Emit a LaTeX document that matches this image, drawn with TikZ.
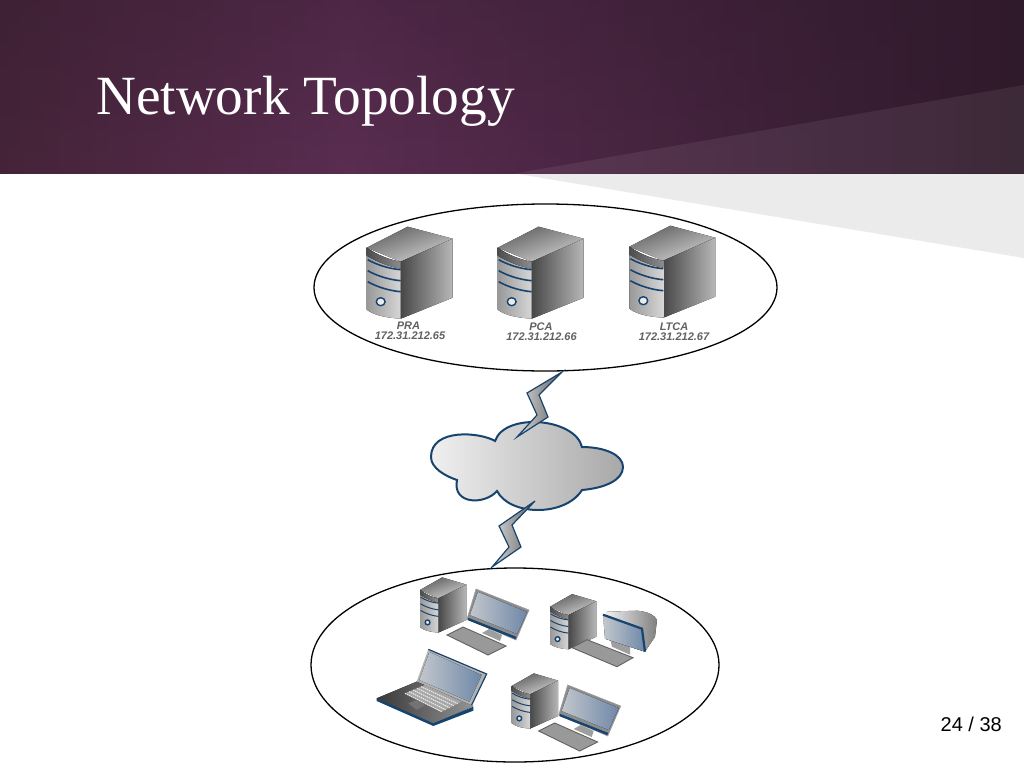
\documentclass[tikz,border=0pt]{standalone}
\usepackage{fontspec}
\usepackage{tikz}
\usetikzlibrary{shapes.geometric,fadings}
\setmainfont{Liberation Serif}
\newfontfamily\labelfont{Liberation Sans}
\definecolor{plumdark}{HTML}{2F1A2B}
\definecolor{plumleft}{HTML}{452439}
\definecolor{plummid}{HTML}{5A2D51}
\definecolor{boltnavy}{HTML}{17436F}
\definecolor{wedgegray}{HTML}{EBEBEB}
\definecolor{glasslight}{HTML}{C2C7CC}
\definecolor{glassblue}{HTML}{6F88A8}
\pgfdeclarehorizontalshading{headerplum}{100bp}{color(0bp)=(plumleft); color(25bp)=(plumleft); color(42bp)=(plummid); color(75bp)=(plumdark); color(100bp)=(plumdark)}
\tikzset{
  groupring/.style={ellipse,draw=black,line width=1.3pt,fill=white,inner sep=0pt},
  srvtext/.style={font=\labelfont\bfseries\itshape\fontsize{11}{12}\selectfont,text=black!62,inner sep=0pt},
  cloudbody/.style={draw=boltnavy,line width=2pt,left color=black!6,right color=black!34},
  boltbody/.style={draw=boltnavy,line width=1.2pt,line join=miter,left color=black!15,right color=black!62},
  screenglass/.style={left color=glasslight,right color=glassblue},
  keyboardbody/.style={draw=black!62,line width=.9pt,fill=black!40},
  stripeline/.style={line width=1.6pt},
  pics/towerbox/.style={code={
    \fill[left color=black!62,right color=black!18,shading angle=20] (0,0) -- (41,-21) -- (86,-9) -- (34,14) -- cycle;
    \fill[left color=black!72,right color=black!28] (34,14) -- (86,-9) -- (86,50) -- (34,71) -- cycle;
    \fill[left color=black!40,right color=black!16] (0,0) .. controls (10,7) and (22,12) .. (34,14) -- (34,71) .. controls (20,70) and (8,68) .. (0,62) -- cycle;
    \fill[left color=black!70,right color=black!45] (0,0) .. controls (10,7) and (22,12) .. (34,14) -- (34,21) .. controls (22,19) and (10,14) .. (0,8) -- cycle;
    \foreach \stripey in {12,23,34}
      \draw[boltnavy,stripeline] (1,\stripey) .. controls (10,\stripey+5) and (22,\stripey+9) .. (34,\stripey+10);
    \draw[boltnavy,line width=1.4pt,fill=black!8] (14,54) ellipse (4.4 and 4);
  }},
  pics/flatscreen/.style={code={
    \fill[black!38] (13,40) -- (26,46) -- (24,52) -- (6,44) -- cycle;
    \fill[black!45,draw=black!38,line width=.6pt] (0,0) -- (53,21) -- (40,51) -- (-9,30) -- cycle;
    \fill[screenglass] (2,3) -- (51,23) -- (41,45) -- (-6,26) -- cycle;
    \draw[boltnavy,line width=2.4pt] (-8,30) -- (40,49);
    \draw[keyboardbody] (-29,46) -- (-13,38) -- (30,57) -- (12,66) -- cycle;
  }},
  smalltower/.style={xscale=.54,yscale=.6,stripeline/.style={line width=1pt}},
  pics/desktopset/.style={code={
    \pic[smalltower] at (0,0) {towerbox};
    \pic at (56,-1) {flatscreen};
  }},
}
\begin{document}
\begin{tikzpicture}[x=1pt,y=-1pt]
  \useasboundingbox (0,0) rectangle (1024,768);

  \fill[white] (0,0) rectangle (1024,768);
  \fill[wedgegray] (515,173.5) -- (1024,173.5) -- (1024,258) -- cycle;
  \path[shading=headerplum] (0,0) rectangle (1024,173.5);
  \fill[plumdark,path fading=south,fill opacity=.3] (0,0) rectangle (1024,173.5);
  \fill[white,opacity=.07] (515,173.5) -- (1024,85) -- (1024,173.5) -- cycle;

  \node[anchor=base west,text=white,inner sep=0pt,font=\fontsize{55.3}{60}\selectfont] (title) at (96,114) {Network Topology};
  \node[anchor=base east,inner sep=0pt,font=\labelfont\fontsize{20}{24}\selectfont] (pageno) at (1002,731) {24 / 38};

  \node[groupring,minimum width=463pt,minimum height=167pt] (srvgroup) at (545.5,287.5) {};
  \node[groupring,minimum width=408pt,minimum height=194pt] (clientgroup) at (515,665) {};

  \foreach \srvx/\srvy in {366.7/247.7,497.7/247.7,629.3/246.7}
    \pic at (\srvx,\srvy) {towerbox};

  \node[srvtext] (pralabel) at (408.5,326) {PRA};
  \node[srvtext] (praip) at (410,336) {172.31.212.65};
  \node[srvtext] (pcalabel) at (541,327) {PCA};
  \node[srvtext] (pcaip) at (541.5,337) {172.31.212.66};
  \node[srvtext] (ltcalabel) at (674,327) {LTCA};
  \node[srvtext] (ltcaip) at (674,337) {172.31.212.67};

  \path[cloudbody] (495,441) .. controls (480,432) and (431,428) .. (431,457)
    .. controls (431,468) and (445,476) .. (457,480)
    .. controls (452,505) and (485,505) .. (497,491)
    .. controls (510,516) and (565,517) .. (582,490)
    .. controls (605,488) and (623,480) .. (623,467)
    .. controls (623,455) and (605,447) .. (582,447)
    .. controls (575,418) and (505,412) .. (495,441) -- cycle;
  \path[boltbody] (562,372) -- (527,393) -- (537,415) -- (517,437) -- (548,417) -- (539,395) -- cycle;
  \path[boltbody] (535,501) -- (499,526) -- (509,547) -- (492,567) -- (521,547) -- (512,525) -- cycle;

  \pic at (420,590) {desktopset};
  \pic at (511.7,686) {desktopset};

  % crt desktop
  \pic[smalltower] at (550,606.7) {towerbox};
  \begin{scope}[shift={(550,606.7)}]
    \fill[black!38] (60,32) -- (80,40) -- (80,48) -- (62,40) -- cycle;
    \fill[left color=black!5,right color=black!50] (57,5) -- (87,4) .. controls (98,5) and (104,8) .. (107,13) -- (105,30) -- (95,45) -- (55,32) -- cycle;
    \fill[screenglass] (53,8) -- (92,22) -- (95,45) -- (55,32) -- cycle;
    \draw[boltnavy,line width=2.2pt] (53,8) -- (92,22) -- (95,45);
    \draw[keyboardbody] (22,41) -- (37,33) -- (83,51) -- (67,60) -- cycle;
  \end{scope}

  % laptop
  \begin{scope}[shift={(370,570)},x=.3333pt,y=-.3333pt]
    \fill[black!30] (175,238) -- (350,312) -- (305,405) -- (140,335) -- cycle;
    \fill[screenglass] (178,246) -- (335,315) -- (298,395) -- (148,330) -- cycle;
    \draw[boltnavy,line width=1.2pt] (175,238) -- (350,312) -- (305,405);
    \fill[left color=black!78,right color=black!42] (140,335) -- (310,408) -- (190,462) -- (20,385) -- cycle;
    \fill[boltnavy] (20,385) -- (190,460) -- (310,410) -- (310,422) -- (190,468) -- (20,393) -- cycle;
    \fill[black!35] (105,370) -- (165,345) -- (275,395) -- (215,425) -- cycle;
    \foreach \keyrow in {0,.2,.4,.6,.8}
      \draw[black!8,line width=1pt,dash pattern=on 1.5pt off .7pt] (105+60*\keyrow,370-25*\keyrow) -- (215+60*\keyrow,425-30*\keyrow);
    \fill[black!55] (115,400) -- (140,390) -- (165,405) -- (140,420) -- cycle;
  \end{scope}
\end{tikzpicture}
\end{document}
